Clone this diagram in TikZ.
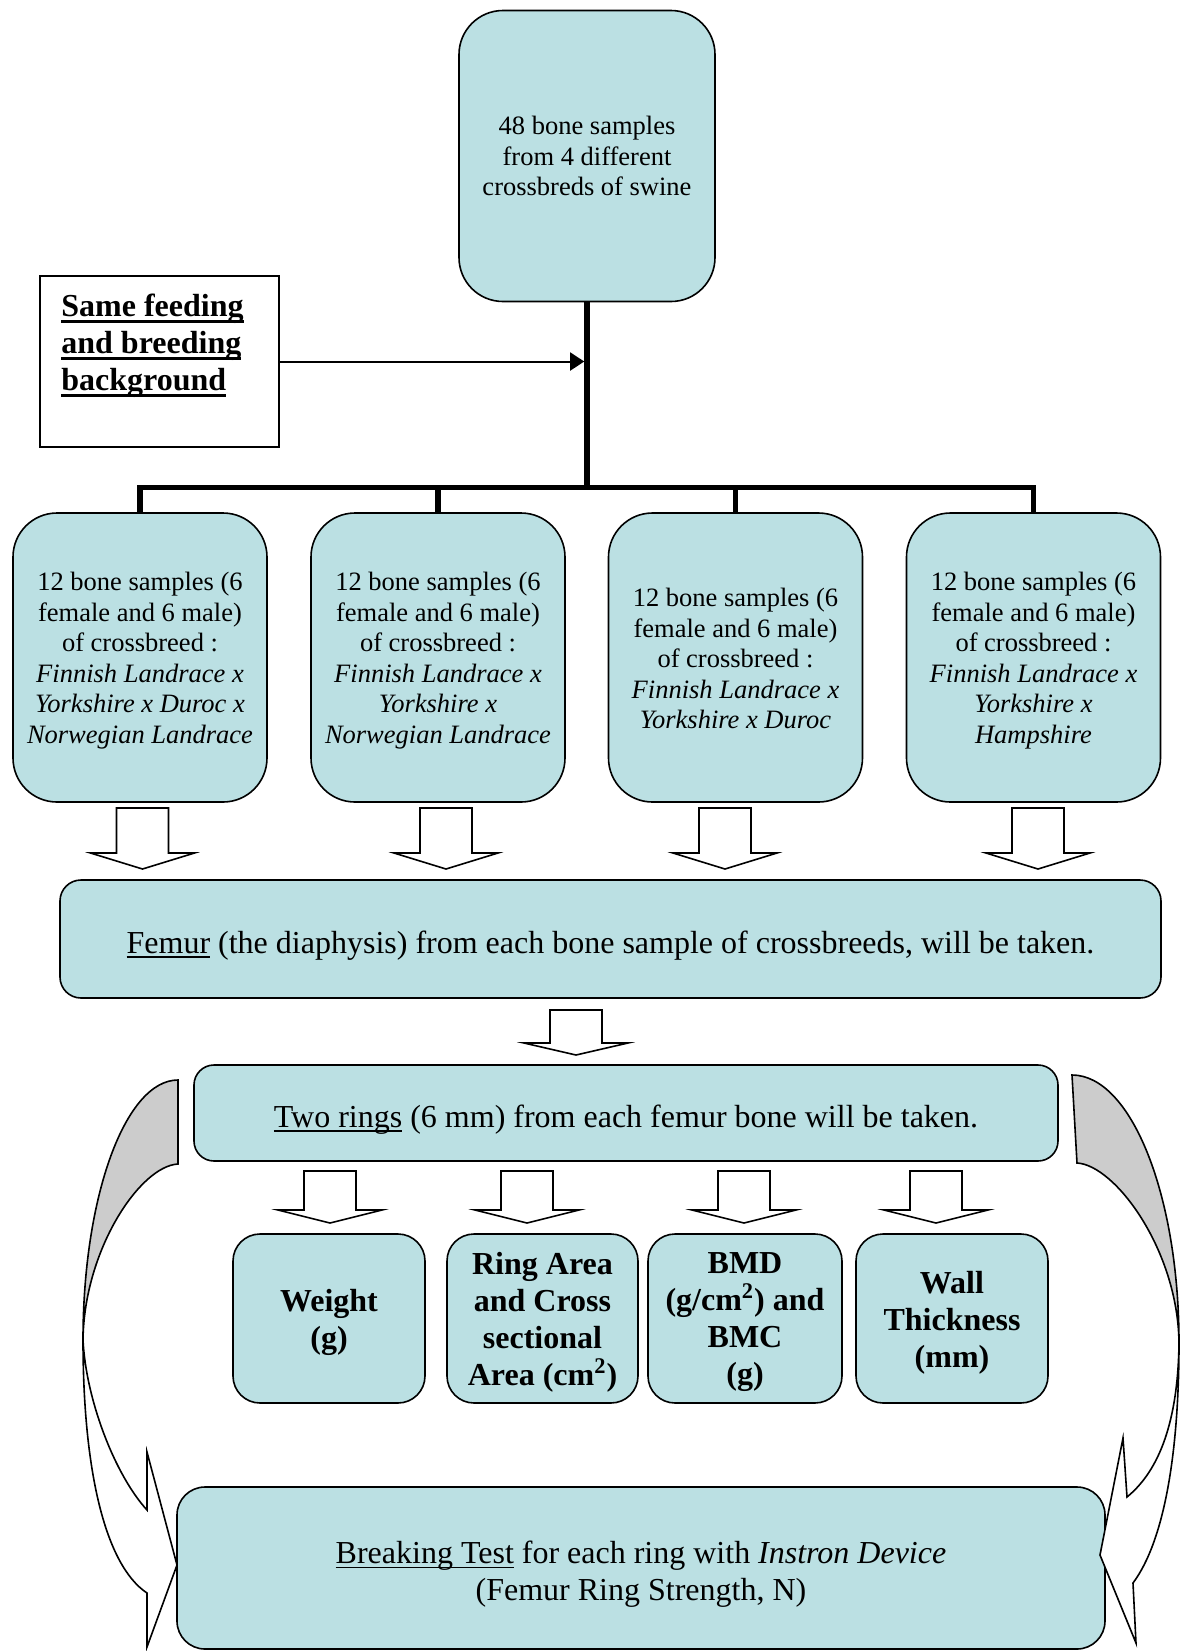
\documentclass[tikz,border=0pt]{standalone}
\usepackage{fontspec}
\setmainfont{Liberation Serif}
\usetikzlibrary{arrows.meta}
\definecolor{boxfill}{RGB}{187,224,227}
\definecolor{bandgray}{RGB}{204,204,204}
\newcommand\myul[3]{\leavevmode\setbox0=\hbox{#3}\rlap{\rule[-#1]{\wd0}{#2}}\box0\relax}
\newcommand\ulthin[1]{\myul{2.2pt}{0.75pt}{#1}}
\newcommand\ulthick[1]{\myul{3pt}{1.5pt}{#1}}
\newcommand\blockarrow[4]{%
  \draw[barrow] ({#1-26},#2) -- ({#1+26},#2) -- ({#1+26},#3) -- ({#1+52},#3)
    -- (#1,#4) -- ({#1-52},#3) -- ({#1-26},#3) -- cycle;}
\begin{document}
\begin{tikzpicture}[x=0.5pt,y=-0.5pt,
  box/.style={draw=black, line width=0.8pt, fill=boxfill, rounded corners=#1,
    inner sep=0pt},
  box/.default=10pt,
  txt/.style={inner sep=0pt, align=center},
  fsmall/.style={txt, font=\fontsize{13.25pt}{15.25pt}\selectfont},
  fbig/.style={txt, font=\fontsize{16pt}{18.5pt}\selectfont, yshift=-3.2pt},
  fbold/.style={txt, font=\fontsize{16pt}{18.5pt}\selectfont\bfseries, yshift=-2pt},
  bus/.style={line width=2.75pt},
  barrow/.style={draw=black, fill=white, line width=0.8pt, line join=miter},
  band/.style={draw=black, line width=0.8pt, line join=miter}]
\useasboundingbox (0,0) rectangle (1181,1651);

% top box
\node[box=22pt, minimum width=128pt, minimum height=145.5pt] (top) at (587,156) {};
\node[fsmall] (toptext) at (top) {48 bone samples\\from 4 different\\crossbreds of swine};

% side box
\node[draw=black, line width=0.8pt, minimum width=119.5pt, minimum height=85.5pt, inner sep=0pt] (side) at (159.5,361.5) {};
\node[txt, font=\fontsize{16pt}{18.5pt}\selectfont\bfseries, align=left, anchor=west] (sidetext) at (61,346)
  {\ulthick{Same feeding}\\\ulthick{and breeding}\\\ulthick{background}};

% four crossbreed boxes
\node[box=22pt, minimum width=127pt, minimum height=144.5pt] (b1) at (140,657.5) {};
\node[fsmall, yshift=-1.5pt] (b1text) at (b1)
  {12 bone samples (6\\female and 6 male)\\of crossbreed :\\\textit{Finnish Landrace x}\\\textit{Yorkshire x Duroc x}\\\textit{Norwegian Landrace}};
\node[box=22pt, minimum width=127pt, minimum height=144.5pt] (b2) at (438,657.5) {};
\node[fsmall, yshift=-1.5pt] (b2text) at (b2)
  {12 bone samples (6\\female and 6 male)\\of crossbreed :\\\textit{Finnish Landrace x}\\\textit{Yorkshire x}\\\textit{Norwegian Landrace}};
\node[box=22pt, minimum width=127pt, minimum height=144.5pt] (b3) at (735.5,657.5) {};
\node[fsmall, yshift=-0.5pt] (b3text) at (b3)
  {12 bone samples (6\\female and 6 male)\\of crossbreed :\\\textit{Finnish Landrace x}\\\textit{Yorkshire x Duroc}};
\node[box=22pt, minimum width=127pt, minimum height=144.5pt] (b4) at (1033.5,657.5) {};
\node[fsmall, yshift=-1.5pt] (b4text) at (b4)
  {12 bone samples (6\\female and 6 male)\\of crossbreed :\\\textit{Finnish Landrace x}\\\textit{Yorkshire x}\\\textit{Hampshire}};

% connectors
\coordinate (busc) at (587,487.5);
\draw[bus] (top.south) -- (busc);
\draw[bus, line join=miter] (b1.north) |- (busc) -| (b4.north);
\draw[bus] (b2.north) -- (b2.north |- busc);
\draw[bus] (b3.north) -- (b3.north |- busc);
\draw[line width=1pt, -{Triangle[length=7pt,width=9pt]}, shorten >=1.4pt] (side.east) -- (side.east -| busc);

% femur box
\node[box=10.5pt, minimum width=550.5pt, minimum height=59pt] (femur) at (610.5,939) {};
\node[fbig] (femurtext) at (femur)
  {\ulthin{Femur} (the diaphysis) from each bone sample of crossbreeds, will be taken.};

% rings box
\node[box=10pt, minimum width=432pt, minimum height=48pt] (rings) at (626,1113) {};
\node[fbig] (ringstext) at (rings)
  {\ulthin{Two rings} (6 mm) from each femur bone will be taken.};

% measurement boxes
\node[box=13.5pt, minimum width=96pt, minimum height=84.5pt] (weight) at (329,1318.5) {};
\node[fbold] (weighttext) at (weight) {Weight\\(g)};
\node[box=13.5pt, minimum width=95.5pt, minimum height=84.5pt] (area) at (542.5,1318.5) {};
\node[fbold] (areatext) at (area) {Ring Area\\and Cross\\sectional\\Area (cm\textsuperscript{2})};
\node[box=13.5pt, minimum width=97pt, minimum height=84.5pt] (bmd) at (745,1318.5) {};
\node[fbold] (bmdtext) at (bmd) {BMD\\(g/cm\textsuperscript{2}) and\\BMC\\(g)};
\node[box=13.5pt, minimum width=96pt, minimum height=84.5pt] (wall) at (952,1318.5) {};
\node[fbold] (walltext) at (wall) {Wall\\Thickness\\(mm)};

% breaking box
\node[box=14pt, minimum width=464pt, minimum height=81pt] (breaking) at (641,1568) {};
\node[fbig] (breakingtext) at (breaking)
  {\ulthin{Breaking Test} for each ring with \textit{Instron Device}\\(Femur Ring Strength, N)};

% block arrows
\blockarrow{142.5}{808}{853}{869}
\blockarrow{446}{808}{853}{869}
\blockarrow{725}{808}{853}{869}
\blockarrow{1038}{808}{853}{869}
\blockarrow{576}{1010}{1043}{1055}
\blockarrow{330}{1171}{1210}{1223}
\blockarrow{527}{1171}{1210}{1223}
\blockarrow{744}{1171}{1210}{1223}
\blockarrow{936}{1171}{1210}{1223}

% left curved arrow
\draw[band, fill=bandgray] (178,1080) .. controls (125.5,1080) and (83,1196) .. (83,1340)
  .. controls (84,1250) and (140,1166) .. (178,1164) -- cycle;
\draw[band, fill=white] (83,1340) .. controls (83,1470) and (105,1565) .. (147,1593)
  -- (147,1647) -- (177,1565) -- (147,1452) -- (147,1510)
  .. controls (115,1475) and (86,1400) .. (83,1340) -- cycle;

% right curved arrow
\draw[band, fill=bandgray] (1072,1075) .. controls (1131,1075) and (1179,1195) .. (1179,1343)
  .. controls (1178,1250) and (1115,1165) .. (1077,1163) -- cycle;
\draw[band, fill=white] (1179,1343) .. controls (1179,1450) and (1165,1540) .. (1133,1583)
  -- (1136,1643) -- (1100,1555) -- (1123,1438) -- (1127,1497)
  .. controls (1160,1470) and (1178,1420) .. (1179,1343) -- cycle;
\end{tikzpicture}
\end{document}
